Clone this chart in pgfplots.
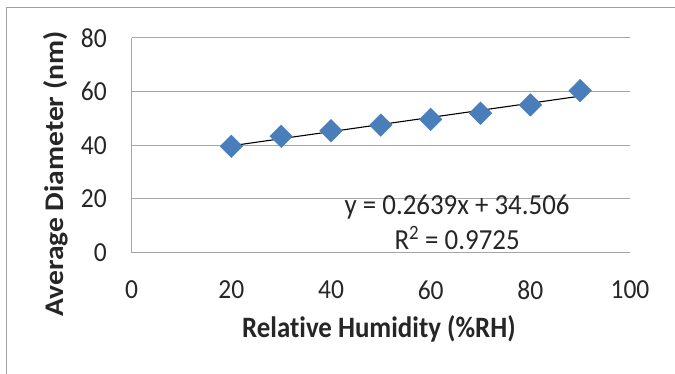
\documentclass[border=0pt]{standalone}
\usepackage{pgfplots}
\pgfplotsset{compat=1.18}
\usepackage{fontspec}
\setmainfont[Ligatures={NoCommon}]{Carlito}
\definecolor{markblue}{HTML}{4A7EBB}
\definecolor{gridgray}{HTML}{A6A6A6}
\definecolor{framegray}{HTML}{A0A0A0}
\definecolor{txt}{HTML}{262626}
\begin{document}
\begin{tikzpicture}
\draw[framegray, line width=0.8bp] (6bp,367bp) -- (690bp,367bp);
\draw[framegray, line width=0.8bp] (6bp,367bp) -- (6bp,-10bp);
\begin{axis}[
  at={(131.7bp,121.3bp)}, anchor=south west,
  scale only axis, width=498.3bp, height=215bp,
  xmin=0, xmax=100, ymin=0, ymax=80,
  xtick={0,20,...,100}, ytick={0,20,...,80},
  axis x line*=bottom, axis y line*=left,
  x axis line style={-, gridgray, line width=1bp},
  y axis line style={-, gridgray, line width=1bp},
  ymajorgrids, major grid style={gridgray, line width=1bp},
  major tick length=0pt,
  /pgf/number format/assume math mode=true,
  tick label style={font=\fontsize{25.6}{30}\selectfont, text=txt, inner sep=0pt, yscale=1.08},
  yticklabel style={anchor=east, xshift=-24.7bp},
  xticklabel style={anchor=north, yshift=-26bp},
  xlabel={Relative Humidity (\%RH)},
  ylabel={Average Diameter (nm)},
  label style={font=\bfseries\fontsize{27}{30}\selectfont, text=txt},
  xlabel style={at={(axis description cs:0.496,-0.355)}, anchor=center, yscale=1.1},
  ylabel style={at={(axis description cs:-0.152,0.366)}, anchor=center, xscale=1.1},
  clip=false,
]
\addplot[only marks, mark=square*, mark size=8bp, mark options={rotate=45, fill=markblue, draw=markblue}]
  coordinates {(20,39.6) (30,43.3) (40,45.4) (50,47.5) (60,49.6) (70,51.9) (80,55.0) (90,60.3)};
\addplot[black, line width=1.1bp] coordinates {(20,39.784) (90,58.257)};
\node[font=\fontsize{27}{30}\selectfont, text=txt, anchor=center, inner sep=0pt, yscale=1.08] at (axis cs:65.3,17.0) {y = 0.2639x + 34.506};
\node[font=\fontsize{27}{30}\selectfont, text=txt, anchor=center, inner sep=0pt, yscale=1.08] at (axis cs:65.3,5.5) {R\textsuperscript{2} = 0.9725};
\end{axis}
\pgfresetboundingbox
\useasboundingbox (0,0) rectangle (675bp,374bp);
\end{tikzpicture}
\end{document}
